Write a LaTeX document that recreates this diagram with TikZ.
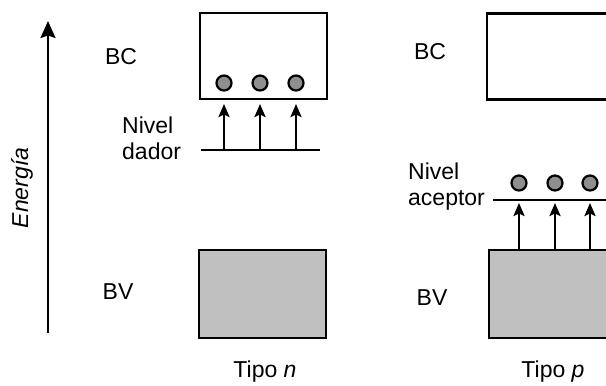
\documentclass[tikz,border=0pt]{standalone}
\usepackage{fontspec}
\setmainfont{Liberation Sans}
\usetikzlibrary{arrows.meta}
\begin{document}
\begin{tikzpicture}[x=1pt,y=-1pt,
  band/.style={draw=black,line width=2.4pt,minimum width=127pt,inner sep=0pt,outer sep=0pt},
  bandc/.style={band,fill=white,minimum height=86pt},
  bandv/.style={band,fill=bandgray,minimum height=88pt},
  elec/.style={circle,draw=black,line width=2.2pt,fill=elecgray,minimum size=15pt,inner sep=0pt},
  lvl/.style={line width=2.4pt},
  upar/.style={line width=2.4pt,-{Stealth[length=13pt,width=11pt,inset=2.5pt]}},
  lbl/.style={font=\fontsize{23}{26}\selectfont,inner sep=0pt}
]
\definecolor{bandgray}{HTML}{C0C0C0}
\definecolor{elecgray}{HTML}{8F8F8F}
\useasboundingbox (0,0) rectangle (606,386);
\clip (0,0) rectangle (606,386);
% energy axis
\coordinate (eb) at (48,333);
\coordinate (et) at (48,21);
\draw[line width=2.4pt,-{Stealth[length=17pt,width=15pt,inset=2.5pt]}] (eb) -- (et);
\node[lbl,rotate=90,font=\fontsize{23}{26}\selectfont\itshape] (en) at (22,188) {Energía};
% ---- tipo n ----
\node[bandc] (bcn) at (263.5,56) {};
\node[bandv] (bvn) at (262.5,294) {};
\node[lbl] (bcnl) at (121,57) {BC};
\node[lbl] (bvnl) at (118,292) {BV};
\node[lbl] (tn) at (265,372) {Tipo \textit{n}};
\node[lbl,align=left,anchor=west] (nd) at (122,138) {Nivel\\dador};
\coordinate (dl) at (201,150);
\coordinate (dr) at (320,150);
\draw[lvl] (dl) -- (dr);
\foreach \i/\x in {1/224,2/260,3/296}{
  \node[elec] (en\i) at (\x,83) {};
  \coordinate (na\i) at (\x,150);
  \coordinate (nt\i) at (\x,104);
  \draw[upar] (na\i) -- (nt\i);
}
% ---- tipo p ----
\node[bandc] (bcp) at (550.5,56.5) {};
\node[bandv] (bvp) at (552.5,294) {};
\node[lbl] (bcpl) at (430,52) {BC};
\node[lbl] (bvpl) at (432,298) {BV};
\node[lbl] (tp) at (553,372) {Tipo \textit{p}};
\node[lbl,align=left,anchor=west] (na) at (408,187) {Nivel\\aceptor};
\coordinate (al) at (493,200);
\coordinate (ar) at (620,200);
\draw[lvl] (al) -- (ar);
\foreach \i/\x in {1/519,2/555,3/590}{
  \node[elec] (ep\i) at (\x,183) {};
  \coordinate (pa\i) at (\x,250);
  \coordinate (pt\i) at (\x,203);
  \draw[upar] (pa\i) -- (pt\i);
}
\end{tikzpicture}
\end{document}
